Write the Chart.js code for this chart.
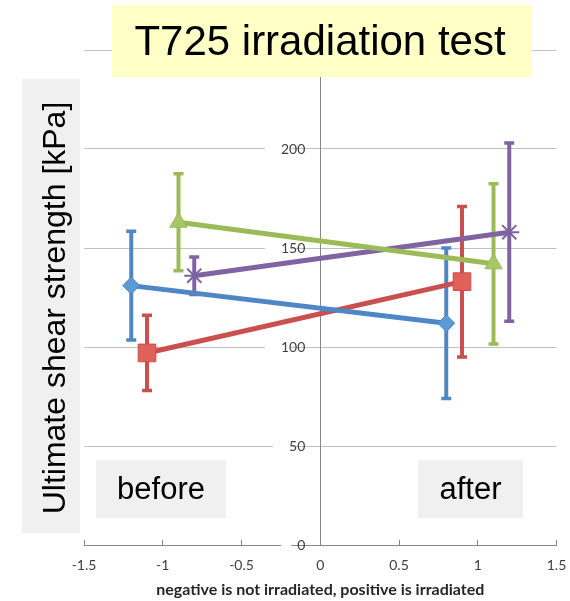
<!DOCTYPE html>
<html><head><meta charset="utf-8">
<script src="https://cdn.jsdelivr.net/npm/chart.js@4"></script>
<style>html,body{margin:0;padding:0;background:#fff;overflow:hidden}canvas{display:block}</style>
</head><body>
<canvas id="c" width="570" height="601"></canvas>
<script>
// ---- data ----
const chartTitle = 'T725 irradiation test';
const yAxisTitle = 'Ultimate shear strength [kPa]';
const xAxisTitle = 'negative is not irradiated, positive is irradiated';
const panelLabels = ['before', 'after'];
const seriesNames = ['Series 1', 'Series 2', 'Series 3', 'Series 4'];

const xBlue = [-1.2, 0.8];
const yBlue = [131, 112];
const errBlue = [27.5, 38];

const xRed = [-1.1, 0.9];
const yRed = [97, 133];
const errRed = [19, 38];

const xGreen = [-0.9, 1.1];
const yGreen = [163, 142];
const errGreen = [24.5, 40.5];

const xPurple = [-0.8, 1.2];
const yPurple = [136, 158];
const errPurple = [9.5, 45];

const xTicks = [-1.5, -1, -0.5, 0, 0.5, 1, 1.5];
const yTicks = [0, 50, 100, 150, 200, 250];

// ---- styles ----
const lineColors = ['#4f86c6', '#c9504c', '#9bbb59', '#8064a2'];
const markerFills = ['#5b9bd5', '#e0605a', '#a8c866', '#8064a2'];
const pointStyles = ['rectRot', 'rect', 'triangle', 'star'];
const pointRadii = [8.5, 12.5, 10, 10];
const yLabelGap = 15;

function pts(xs, ys) { return xs.map((x, i) => ({x: x, y: ys[i]})); }
const seriesX = [xBlue, xRed, xGreen, xPurple];
const seriesY = [yBlue, yRed, yGreen, yPurple];
const seriesErr = [errBlue, errRed, errGreen, errPurple];

const datasets = seriesNames.map((name, i) => ({
  label: name,
  data: pts(seriesX[i], seriesY[i]),
  errors: seriesErr[i],
  showLine: true,
  borderColor: lineColors[i],
  borderWidth: 5,
  pointStyle: pointStyles[i],
  pointRadius: pointRadii[i],
  pointBackgroundColor: markerFills[i],
  pointBorderColor: i === 3 ? '#7a62a0' : lineColors[i],
  pointBorderWidth: i === 3 ? 2 : 1
}));

// shift the y-axis tick labels away from the centred axis line
const yLabelShiftPlugin = {
  id: 'yLabelShift',
  beforeDraw(chart) {
    const s = chart.scales.y;
    const items = s.getLabelItems(chart.chartArea);
    items.forEach(it => {
      if (it._shifted) return;
      it._shifted = true;
      it.options.translation[0] -= yLabelGap;
      if (it.options.backdrop) it.options.backdrop.left -= yLabelGap;
    });
  }
};

const errorBarPlugin = {
  id: 'errorBars',
  beforeDatasetsDraw(chart) {
    const {ctx, scales: {x, y}} = chart;
    ctx.save();
    chart.data.datasets.forEach((ds, i) => {
      ctx.strokeStyle = lineColors[i];
      ds.data.forEach((p, j) => {
        const e = ds.errors[j];
        const px = x.getPixelForValue(p.x);
        const top = y.getPixelForValue(p.y + e);
        const bot = y.getPixelForValue(p.y - e);
        ctx.lineWidth = 4;
        ctx.beginPath();
        ctx.moveTo(px, top); ctx.lineTo(px, bot);
        ctx.stroke();
        ctx.lineWidth = 3.5;
        ctx.beginPath();
        ctx.moveTo(px - 5, top); ctx.lineTo(px + 5, top);
        ctx.moveTo(px - 5, bot); ctx.lineTo(px + 5, bot);
        ctx.stroke();
      });
    });
    ctx.restore();
  }
};

const decorPlugin = {
  id: 'decor',
  afterDraw(chart) {
    const ctx = chart.ctx;
    ctx.save();
    // y-axis title box
    ctx.fillStyle = '#f0f0f0';
    ctx.fillRect(22, 79, 58, 454);
    ctx.translate(56, 308);
    ctx.rotate(-Math.PI / 2);
    ctx.fillStyle = '#000';
    ctx.font = '32px "Liberation Sans", Arial, sans-serif';
    ctx.textAlign = 'center';
    ctx.textBaseline = 'middle';
    ctx.fillText(yAxisTitle, 0, 0);
    ctx.setTransform(1, 0, 0, 1, 0, 0);
    // before / after boxes
    ctx.fillStyle = '#f0f0f0';
    ctx.fillRect(96, 460, 130, 58);
    ctx.fillRect(418, 460, 105, 58);
    ctx.fillStyle = '#000';
    ctx.font = '31px "Liberation Sans", Arial, sans-serif';
    ctx.fillText(panelLabels[0], 161, 490);
    ctx.fillText(panelLabels[1], 470.5, 490);
    // title box
    ctx.fillStyle = '#ffffc6';
    ctx.fillRect(112, 5, 420, 72);
    ctx.fillStyle = '#000';
    ctx.font = '42px "Liberation Sans", Arial, sans-serif';
    ctx.fillText(chartTitle, 320, 43);
    ctx.restore();
  }
};

new Chart(document.getElementById('c'), {
  type: 'scatter',
  data: {datasets: datasets},
  options: {
    responsive: false,
    animation: false,
    devicePixelRatio: 1,
    layout: {padding: {left: 84, right: 12, top: 50, bottom: 0}},
    plugins: {legend: {display: false}, tooltip: {enabled: false}},
    scales: {
      x: {
        type: 'linear', min: -1.5, max: 1.5, position: 'bottom',
        afterBuildTicks: s => { s.ticks = xTicks.map(v => ({value: v})); },
        afterFit: s => { s.height = 56; s.paddingLeft = 0; s.paddingRight = 0; },
        grid: {drawOnChartArea: false, drawTicks: true, tickLength: -5, color: '#868686'},
        border: {color: '#868686', width: 1},
        ticks: {padding: 17, maxRotation: 0, color: '#404040', font: {family: 'Lato', size: 14},
                callback: v => String(v)},
        title: {display: true, text: xAxisTitle, color: '#262626',
                font: {family: 'Lato', size: 16, weight: 'bold'}, padding: {top: 0, bottom: 2}}
      },
      y: {
        type: 'linear', min: 0, max: 250, position: {x: 0},
        afterBuildTicks: s => { s.ticks = yTicks.map(v => ({value: v})); },
        grid: {color: '#c0c0c0', tickLength: 5},
        border: {color: '#868686', width: 1},
        ticks: {padding: 0, color: '#404040', font: {family: 'Lato', size: 14},
                showLabelBackdrop: true, backdropColor: '#ffffff', backdropPadding: {x: 1, y: 0}}
      }
    }
  },
  plugins: [yLabelShiftPlugin, errorBarPlugin, decorPlugin]
});
</script>
</body></html>
